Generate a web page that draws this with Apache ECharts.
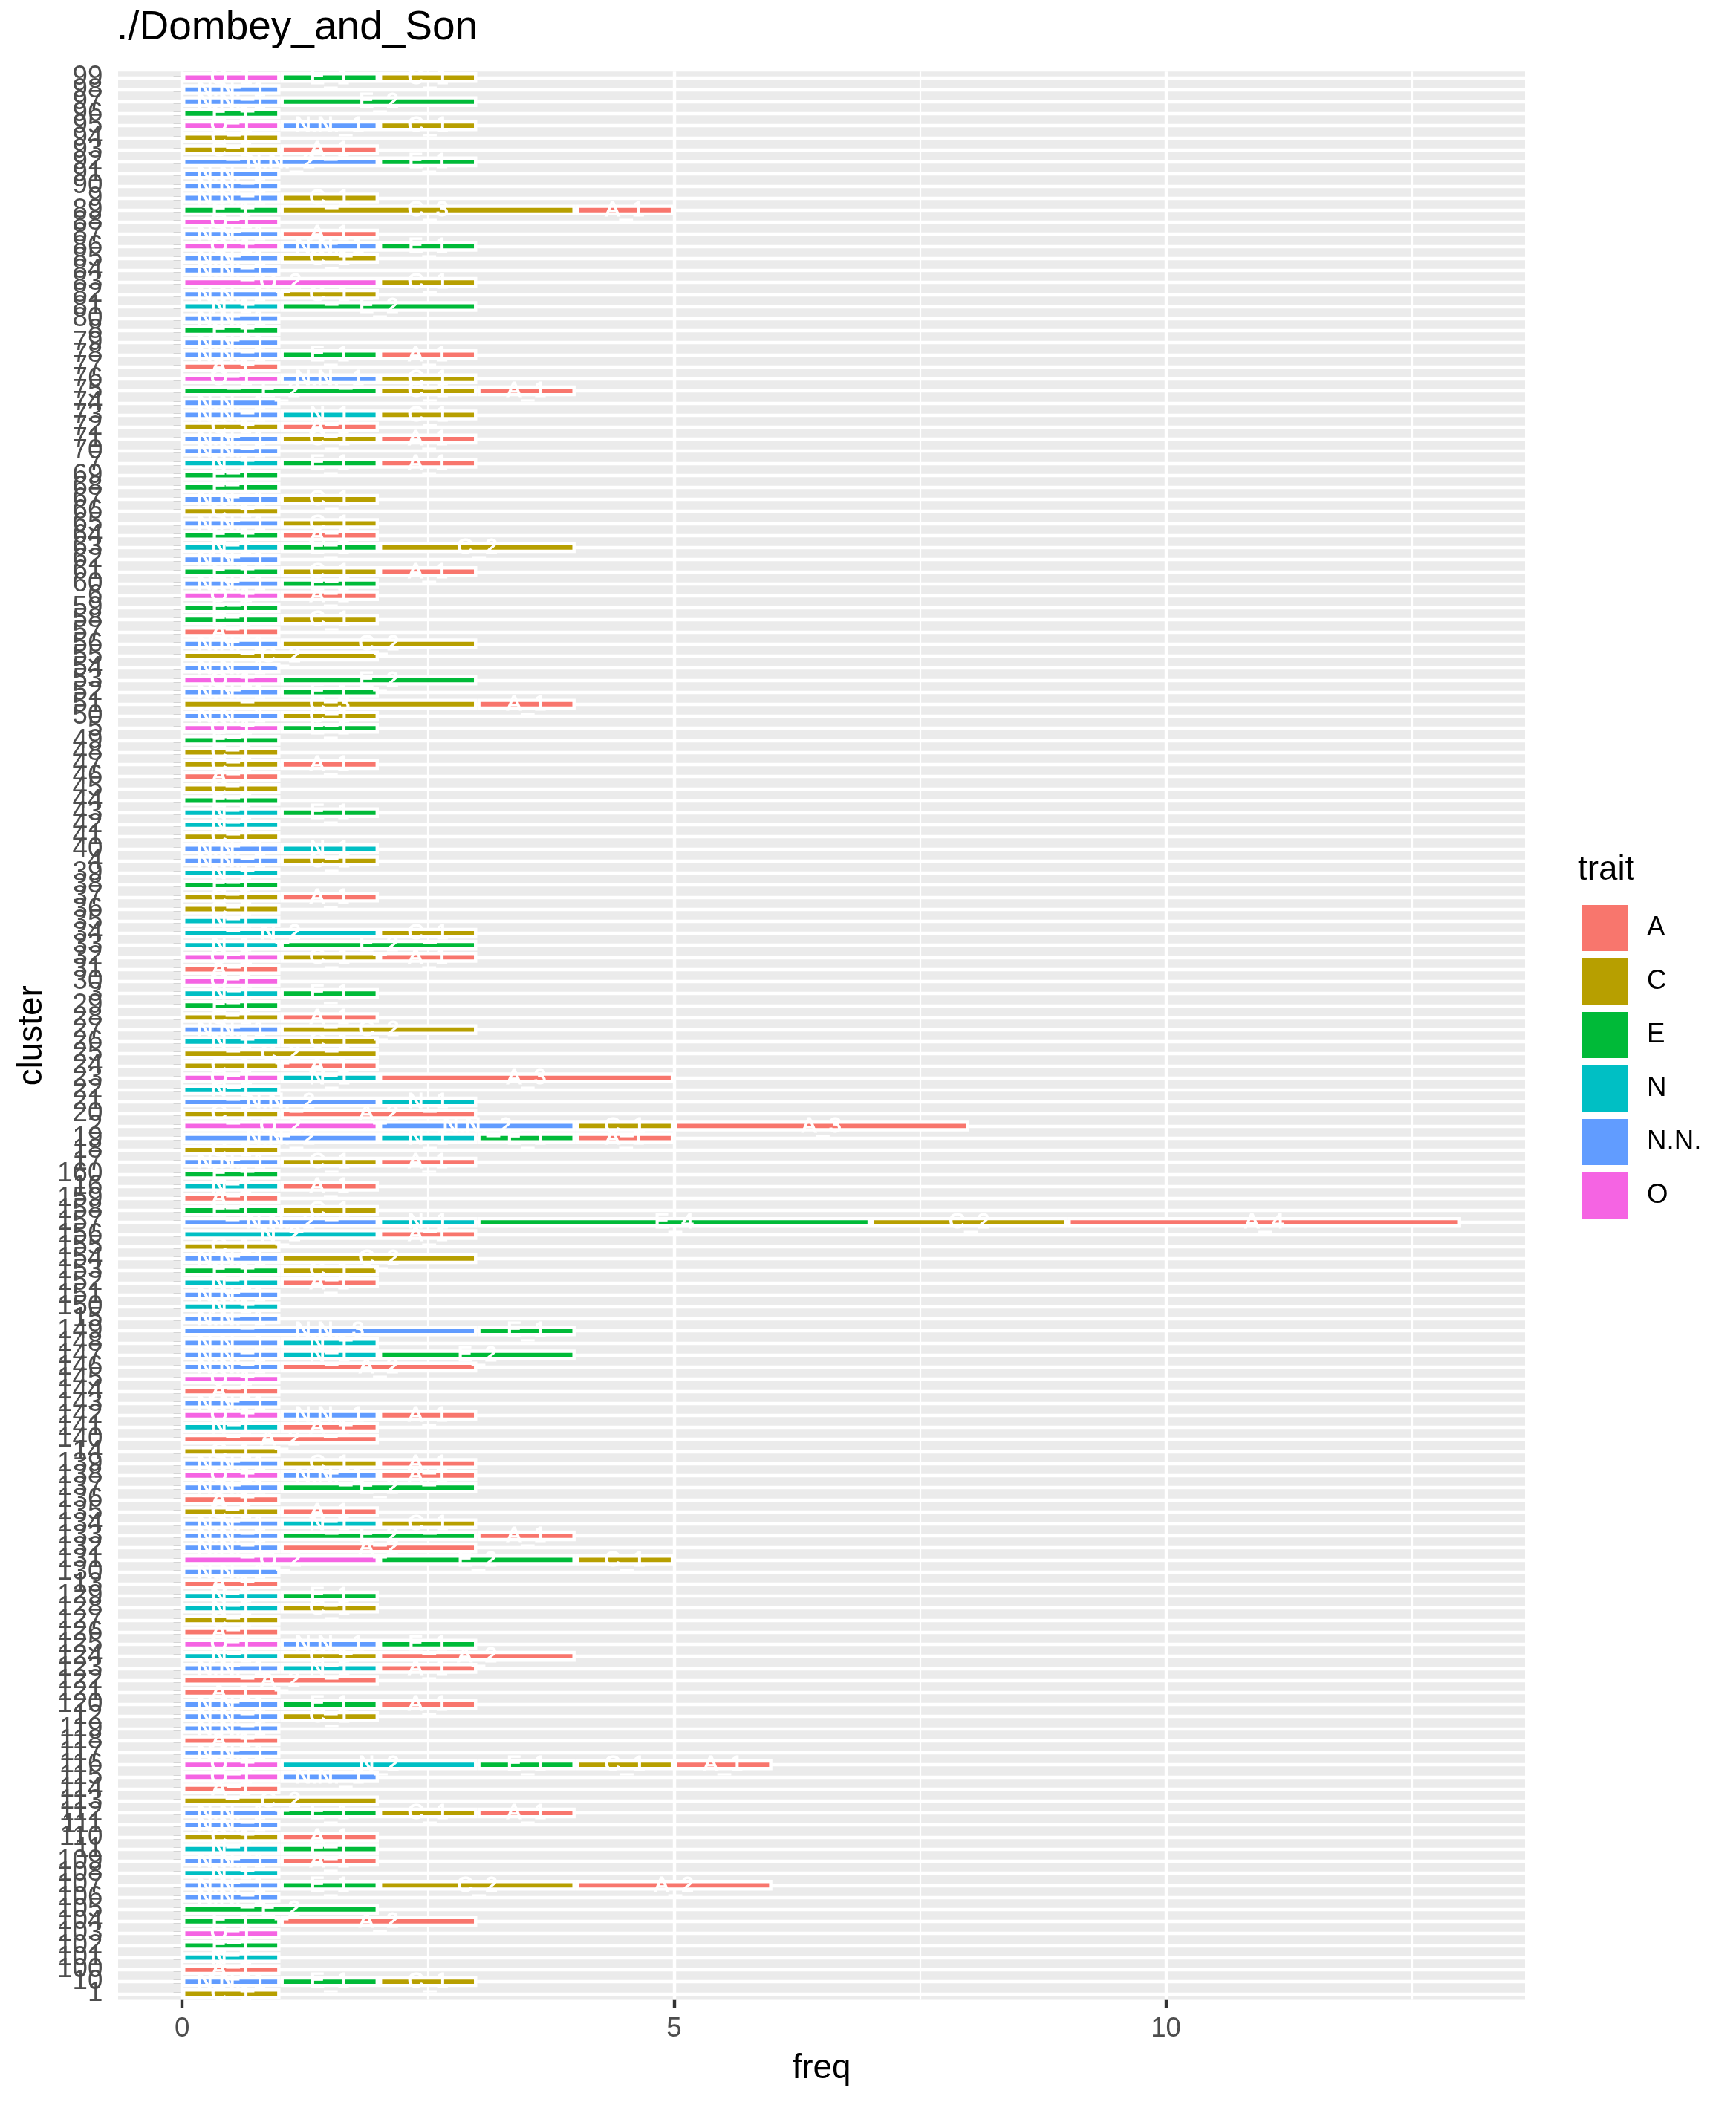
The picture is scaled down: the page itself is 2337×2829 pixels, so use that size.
<!DOCTYPE html>
<html><head><meta charset="utf-8">
<script src="https://cdn.jsdelivr.net/npm/echarts@6/dist/echarts.min.js"></script>
<style>html,body{margin:0;padding:0;background:#fff}#c{width:2337px;height:2829px}</style>
</head><body><div id="c"></div>
<script>
// categories in factor order (bottom to top)
const clusters = [
"1","10","100","101","102","103","104","105","106","107",
"108","109","11","110","111","112","113","114","115","116",
"117","118","119","12","120","121","122","123","124","125",
"126","127","128","129","13","130","131","132","133","134",
"135","136","137","138","139","14","140","141","142","143",
"144","145","146","147","148","149","15","150","151","152",
"153","154","155","156","157","158","159","16","160","17",
"18","19","2","20","21","22","23","24","25","26",
"27","28","29","3","30","31","32","33","34","35",
"36","37","38","39","4","40","41","42","43","44",
"45","46","47","48","49","5","50","51","52","53",
"54","55","56","57","58","59","6","60","61","62",
"63","64","65","66","67","68","69","7","70","71",
"72","73","74","75","76","77","78","79","8","80",
"81","82","83","84","85","86","87","88","89","9",
"90","91","92","93","94","95","96","97","98","99"];

const valO = [
0,0,0,0,0,1,0,0,0,0, 0,0,0,0,0,0,0,0,1,1, 0,0,0,0,0,0,0,0,0,1, 0,0,0,0,0,0,2,0,0,0,
0,0,0,1,0,0,0,0,1,0, 0,1,0,0,0,0,0,0,0,0, 0,0,0,0,0,0,0,0,0,0, 0,0,2,0,0,0,1,0,0,0,
0,0,0,0,1,0,1,0,0,0, 0,0,0,0,0,0,0,0,0,0, 0,0,0,0,0,1,0,0,0,1, 0,0,0,0,0,0,1,0,0,0,
0,0,0,0,0,0,0,0,0,0, 0,0,0,0,1,0,0,0,0,0, 0,0,2,0,0,1,0,1,0,0, 0,0,0,0,0,1,0,0,0,1];
const valNN = [
0,1,0,0,0,0,0,0,1,1, 0,1,0,0,1,1,0,0,1,0, 1,0,1,1,1,0,0,1,0,1, 0,0,0,0,0,1,0,1,1,1,
0,0,1,1,1,0,0,0,1,1, 0,0,1,1,1,3,1,0,1,0, 0,1,0,0,2,0,0,0,0,1, 0,2,2,0,2,0,0,0,0,0,
1,0,0,0,0,0,0,0,0,0, 0,0,0,0,1,1,0,0,0,0, 0,0,0,0,0,0,1,0,1,0, 1,0,1,0,0,0,0,1,0,1,
0,0,1,0,1,0,0,0,1,1, 0,1,1,0,1,0,1,1,0,1, 0,1,0,1,1,1,1,0,0,1, 1,1,2,0,0,1,0,1,1,0];
const valN = [
0,0,0,1,0,0,0,0,0,0, 1,0,1,0,0,0,0,0,0,2, 0,0,0,0,0,0,0,1,1,0, 0,0,1,1,0,0,0,0,0,1,
0,0,0,0,0,0,0,1,0,0, 0,0,0,1,1,0,0,1,0,1, 0,0,0,2,1,0,0,1,0,0, 0,1,0,0,1,1,1,0,0,1,
0,0,0,1,0,0,0,1,2,1, 0,0,0,1,0,1,0,1,1,0, 0,0,0,0,0,0,0,0,0,0, 0,0,0,0,0,0,0,0,0,0,
1,0,0,0,0,0,0,1,0,0, 0,1,0,0,0,0,0,0,0,0, 1,0,0,0,0,0,0,0,0,0, 0,0,0,0,0,0,0,0,0,0];
const valE = [
0,1,0,0,1,0,1,2,0,1, 0,0,1,0,0,1,0,0,0,1, 0,0,0,0,1,0,0,0,0,1, 0,0,0,1,0,0,2,0,2,0,
0,0,2,0,0,0,0,0,0,0, 0,0,0,2,0,1,0,0,0,0, 1,0,0,0,4,1,0,0,1,0, 0,1,0,0,0,0,0,0,0,0,
0,0,1,1,0,0,0,2,0,0, 0,0,1,0,0,0,0,0,1,1, 0,0,0,0,1,1,0,0,1,2, 0,0,0,0,1,1,0,1,1,0,
1,1,0,0,0,1,1,1,0,0, 0,0,0,2,0,0,1,0,1,0, 2,0,0,0,0,1,0,0,1,0, 0,0,1,0,0,0,1,2,0,1];
const valC = [
1,1,0,0,0,0,0,0,0,2, 0,0,0,1,0,1,2,0,0,1, 0,0,0,1,0,0,0,0,1,0, 0,1,1,0,0,0,1,0,0,1,
1,0,0,0,1,1,0,0,0,0, 0,0,0,0,0,0,0,0,0,0, 1,2,1,0,2,1,0,0,0,1, 1,0,1,1,0,0,0,1,2,1,
2,1,0,0,0,0,1,0,1,0, 1,1,0,0,1,0,1,0,0,0, 1,0,1,1,0,0,1,3,0,0, 0,2,2,0,1,0,0,0,1,0,
2,0,1,1,1,0,0,0,0,1, 1,1,0,1,1,0,0,0,0,0, 0,1,1,0,1,0,0,0,3,1, 0,0,0,1,1,1,0,0,0,1];
const valA = [
0,0,1,0,0,0,2,0,0,2, 0,1,0,1,0,1,0,1,0,1, 0,1,0,0,1,1,2,1,2,0, 1,0,0,0,1,0,0,2,1,0,
1,1,0,1,1,0,2,1,1,0, 1,0,2,0,0,0,0,0,0,1, 0,0,0,1,4,0,1,1,0,1, 0,1,3,2,0,0,3,1,0,0,
0,1,0,0,0,1,1,0,0,0, 0,1,0,0,0,0,0,0,0,0, 0,1,1,0,0,0,0,1,0,0, 0,0,0,1,0,0,1,0,1,0,
0,1,0,0,0,0,0,1,0,1, 1,0,0,1,0,1,1,0,0,0, 0,0,0,0,0,0,1,0,1,0, 0,0,0,1,0,0,0,0,0,0];

const legendOrder = ["A","C","E","N","N.N.","O"];
const freqTicks = [0, 5, 10];
const freqMinor = [2.5, 7.5, 12.5];

const traitColors = {"A":"#F8766D","C":"#B79F00","E":"#00BA38","N":"#00BFC4","N.N.":"#619CFF","O":"#F564E3"};
const stackOrder = [["O",valO],["N.N.",valNN],["N",valN],["E",valE],["C",valC],["A",valA]];

const FONT = "Liberation Sans, Arial, Helvetica, sans-serif";
const chart = echarts.init(document.getElementById('c'), null, {renderer:'canvas'});

const gridLines = [];
freqTicks.forEach(v => gridLines.push({xAxis: v, lineStyle:{width:4.4}}));
freqMinor.forEach(v => gridLines.push({xAxis: v, lineStyle:{width:2.2}}));
clusters.forEach((c, i) => gridLines.push({yAxis: i, lineStyle:{width:4.4}}));

const series = [{
  type:'line', data:[], z:1, silent:true, animation:false,
  markLine:{z:1, silent:true, symbol:['none','none'], animation:false, label:{show:false},
    lineStyle:{color:'#FFFFFF', type:'solid', width:4.4}, emphasis:{disabled:true}, data: gridLines}
}];
stackOrder.forEach(([name, vals]) => {
  series.push({
    name, type:'bar', stack:'total', z:3, barCategoryGap:'10%',
    data: vals.map(v => v === 0 ? '-' : v),
    itemStyle:{color: traitColors[name], borderColor:'#FFFFFF', borderWidth:4.4},
    label:{show:true, position:'inside', color:'#FFFFFF', fontSize:30, fontFamily:FONT,
      textBorderColor:'#FFFFFF', textBorderWidth:1.2, textShadowBlur:0, offset:[0,2],
      formatter: p => p.seriesName + '_' + p.value},
    labelLayout:{hideOverlap:false},
    emphasis:{disabled:true}
  });
});

chart.setOption({
  animation:false,
  backgroundColor:'#FFFFFF',
  title:[
    {text:'./Dombey_and_Son', left:157, top:10, padding:0,
     textStyle:{fontSize:55, fontWeight:'normal', color:'#000', fontFamily:FONT}},
    {text:'trait', left:2124, top:1148, padding:0,
     textStyle:{fontSize:45.8, fontWeight:'normal', color:'#000', fontFamily:FONT}}
  ],
  legend:{
    orient:'vertical', left:2130, top:1218, padding:0,
    itemWidth:62, itemHeight:62, itemGap:10, icon:'rect',
    data: legendOrder, selectedMode:false,
    itemStyle:{borderWidth:0},
    textStyle:{fontSize:36.7, color:'#000', fontFamily:FONT, padding:[0,0,0,20]}
  },
  grid:{left:159, top:96.2, width:1894, height:2595.2, show:true,
    backgroundColor:'#EBEBEB', borderWidth:0, containLabel:false},
  xAxis:{
    type:'value', min:-0.65, max:13.65,
    name:'freq', nameLocation:'middle', nameGap:70,
    nameTextStyle:{fontSize:45.8, color:'#000', fontFamily:FONT},
    axisLine:{show:false},
    axisTick:{show:true, length:11.5, lineStyle:{color:'#333333', width:4.4}, customValues:freqTicks},
    axisLabel:{show:true, fontSize:36.7, color:'#4D4D4D', fontFamily:FONT, margin:20.7,
      customValues:freqTicks},
    splitLine:{show:false}, minorSplitLine:{show:false}
  },
  yAxis:{
    type:'category', data:clusters, boundaryGap:true,
    name:'cluster', nameLocation:'middle', nameGap:88, nameRotate:90,
    nameTextStyle:{fontSize:45.8, color:'#000', fontFamily:FONT},
    axisLine:{show:false},
    axisTick:{show:true, alignWithLabel:true, interval:0, length:11.5, lineStyle:{color:'#333333', width:4.4}},
    axisLabel:{show:true, interval:0, fontSize:36.7, color:'#4D4D4D', fontFamily:FONT, margin:20.7},
    splitLine:{show:false}
  },
  series
});
</script></body></html>
